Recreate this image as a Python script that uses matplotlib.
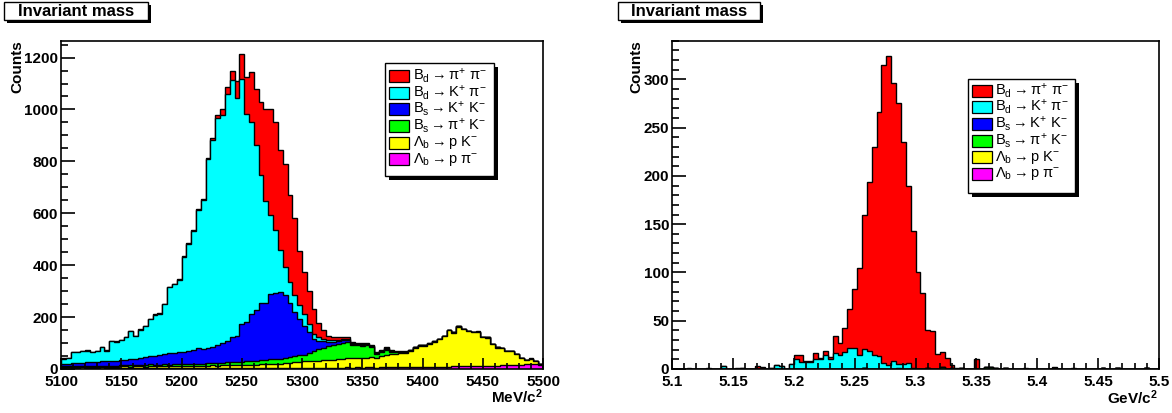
import numpy as np
import matplotlib
matplotlib.use("Agg")
import matplotlib.pyplot as plt
from matplotlib.patches import Rectangle
from matplotlib.ticker import MultipleLocator, FuncFormatter

plt.rcParams['font.family'] = ['Liberation Sans', 'DejaVu Sans']
plt.rcParams['mathtext.fontset'] = 'custom'
plt.rcParams['mathtext.rm'] = 'Liberation Sans'
plt.rcParams['mathtext.it'] = 'Liberation Sans'
plt.rcParams['mathtext.bf'] = 'Liberation Sans:bold'

# ---------------- data ----------------
channel_labels = [
    r'$\mathrm{B_d \rightarrow \pi^{+}\ \pi^{-}}$',
    r'$\mathrm{B_d \rightarrow K^{+}\ \pi^{-}}$',
    r'$\mathrm{B_s \rightarrow K^{+}\ K^{-}}$',
    r'$\mathrm{B_s \rightarrow \pi^{+}\ K^{-}}$',
    r'$\mathrm{\Lambda_b \rightarrow p\ K^{-}}$',
    r'$\mathrm{\Lambda_b \rightarrow p\ \pi^{-}}$',
]
channel_colors = ['#ff0000', '#00ffff', '#0000ff', '#00ff00', '#ffff00', '#ff00ff']

mev_range = (5100, 5500)
gev_range = (5.1, 5.5)
n_bins = 100

# Left panel (MeV/c^2), counts per 4 MeV bin
mev_bd_pipi = [2,1,2,1,2,1,2,1,2,1, 1,2,1,2,2,1,2,2,1,2, 2,1,2,2,3,2,3,3,4,4,
               5,9,11,25,26,36,67,94,143,192, 215,283,354,408,415,382,396,335,297,207,
               163,130,97,55,36,17,12,10,9,8, 6,5,4,3,3,2,2,5,2,2,
               1,1,1,1,0,1,0,1,0,1, 0,1,0,1,0,0,1,0,0,1, 0,1,0,0,1,0,0,1,0,0]
mev_bd_kpi = [22,21,43,44,44,45,39,41,54,41, 78,72,76,86,108,86,110,120,142,156,
              158,194,255,264,279,366,413,457,534,574, 727,797,873,877,953,987,915,944,802,743,
              634,493,393,302,244,165,107,80,65,55, 45,30,20,13,9,8,6,6,6,5,
              3,2,2,2,2,2,2,4,2,1, 1,1,0,1,1,0,1,0,1,0, 0,0,1,0,0,0,0,0,0,0, 0,0,0,0,0,0,0,0,0,0]
mev_bs_kk = [8,10,11,11,13,15,14,15,18,18, 17,19,20,21,24,24,26,31,32,36,
             38,39,43,44,44,46,51,55,59,55, 59,61,71,75,81,98,102,147,150,180,
             197,220,222,253,254,255,242,208,170,140, 112,79,46,32,24,16,11,8,8,8,
             4,3,3,3,2,2,2,5,2,1, 1,1,1,1,1,1,0,1,0,0, 0,0,0,0,0,0,0,0,0,0, 0,0,0,0,0,0,0,0,0,0]
mev_bs_pik = [3,3,4,3,4,4,4,4,5,4, 4,5,4,5,5,5,6,5,6,6, 6,7,6,7,7,8,7,8,8,9,
              9,10,10,11,11,12,12,13,14,14, 15,15,16,17,18,19,20,22,24,26,
              25,32,39,45,49,53,57,60,62,63, 51,49,47,47,40,15,16,18,10,6,
              4,3,3,2,2,2,2,1,1,1, 1,1,1,0,1,0,1,0,1,0, 1,0,1,0,0,1,0,1,0,0]
mev_lb_pk = [5,6,5,6,6,5,6,7,6,6, 7,6,7,8,7,8,8,7,9,8, 8,9,8,9,10,9,10,9,10,10,
             10,11,10,11,12,11,12,12,12,13, 13,14,15,16,17,18,19,20,21,23,
             25,26,27,27,28,30,32,33,35,35, 36,37,38,38,40,38,45,48,50,52,
             55,55,62,74,82,81,89,96,106,118, 141,130,153,142,136,130,131,109,109,82,
             69,66,55,55,40,26,18,20,13,3]
mev_lb_ppi = [2,1,2,2,1,2,2,2,1,2, 2,2,3,2,2,3,2,2,3,2, 3,2,3,2,3,3,2,3,3,2,
              3,3,2,3,3,4,3,3,4,3, 3,4,3,4,4,3,4,4,5,4, 4,5,4,5,5,5,4,5,5,6,
              5,6,5,6,6,5,6,6,7,6, 6,7,6,7,7,8,7,8,8,9, 9,10,10,11,11,12,12,13,12,13,
              13,14,14,15,16,17,18,19,18,15]

# Right panel (GeV/c^2), counts per 0.004 GeV bin
gev_bd_pipi = [0,0,0,1,0,0,0,1,0,0, 0,0,0,1,0,0,0,3,2,0, 0,0,0,0,0,4,7,1,1,7,
               1,5,2,17,12,24,40,61,90,139, 175,216,253,309,320,288,270,230,184,142,
               100,79,39,39,16,16,11,3,1,0, 0,0,10,0,0,0,0,0,0,0,
               0,0,1,0,0,0,0,0,1,0, 0,0,1,0,0,0,0,0,0,0, 0,0,0,0,0,0,0,0,0,0]
gev_bd_kpi = [0,0,0,0,0,0,0,0,0,0, 3,0,0,0,1,0,0,0,0,0, 1,4,3,0,5,10,7,7,7,10,
              10,14,10,17,15,18,22,22,15,20, 19,14,13,6,4,8,4,5,6,1,
              0,0,0,0,0,0,0,0,0,0, 0,0,0,0,0,0,0,0,0,0, 0,0,0,0,0,0,0,0,0,0,
              0,0,0,0,0,0,0,0,0,0, 0,0,0,0,0,0,0,0,0,0]
gev_bs_kk = [0,0,0,0,0,0,0,0,0,0, 0,0,0,0,0,0,0,0,0,0, 0,0,0,0,0,0,0,0,0,0,
             0,0,0,0,0,0,0,0,0,0, 0,0,0,0,0,0,1,0,0,0, 0,0,0,0,0,0,0,0,0,0,
             0,0,0,0,0,0,0,0,0,0, 0,0,0,0,0,0,0,0,0,0, 0,0,0,0,0,0,0,0,0,0,
             0,0,0,0,0,0,0,0,0,0]
gev_bs_pik = [0,0,0,0,0,0,0,0,0,0, 0,0,0,0,0,0,0,0,0,0, 0,0,0,0,0,0,0,0,0,0,
              0,0,0,0,0,0,0,0,0,0, 0,0,0,0,0,0,0,0,0,0, 0,0,1,0,0,2,0,1,0,1,
              0,0,0,0,2,2,1,0,0,0, 0,0,0,0,0,0,0,0,0,0, 0,0,0,0,0,0,0,0,0,0,
              0,0,0,0,0,0,0,0,0,0]
gev_lb_pk = [0,0,0,0,0,0,0,0,0,0, 0,0,0,0,0,0,0,0,0,0, 0,0,0,0,0,0,0,0,0,0,
             0,0,0,0,0,0,0,0,0,0, 0,0,0,0,0,0,0,0,0,0, 0,0,0,0,0,0,0,0,0,0,
             0,0,0,0,0,0,0,0,1,0, 0,0,0,0,0,0,0,0,0,0, 0,0,0,0,0,0,0,0,0,0,
             0,0,0,0,0,0,0,0,0,0]
gev_lb_ppi = [0,0,0,0,0,0,0,0,0,0, 0,0,0,0,0,0,0,0,0,0, 0,0,0,0,0,0,0,0,0,0,
              0,0,0,0,0,0,0,0,0,1, 0,0,0,0,0,0,0,0,0,0, 0,0,0,0,0,0,0,0,0,0,
              0,0,0,0,0,0,0,0,0,0, 0,0,0,0,0,0,0,0,1,0, 0,0,0,0,0,0,0,0,1,0,
              0,1,0,0,0,0,0,1,0,0]

W, H = 1172, 413
fig = plt.figure(figsize=(W / 100, H / 100), dpi=100)


def fx(px):
    return px / W


def fy(py):
    return 1 - py / H


def draw_stack(ax, edges, comps):
    # comps in legend order (top of stack first); stack bottom = last
    order = list(range(len(comps)))[::-1]  # bottom -> top
    arr = np.array([comps[k] for k in order], dtype=float)
    cum = np.cumsum(arr, axis=0)
    for j in range(len(order) - 1, -1, -1):
        k = order[j]
        ax.stairs(cum[j], edges, fill=True, color=channel_colors[k], linewidth=0)
        ax.stairs(cum[j], edges, color='black', linewidth=1.0)


def title_box(x0, x1, y0, y1, text):
    fig.add_artist(Rectangle((fx(x0 + 3), fy(y1 + 3)), fx(x1 - x0), (y1 - y0) / H,
                             transform=fig.transFigure, facecolor='black', edgecolor='none'))
    fig.add_artist(Rectangle((fx(x0), fy(y1)), fx(x1 - x0), (y1 - y0) / H,
                             transform=fig.transFigure, facecolor='white', edgecolor='black',
                             linewidth=1.0))
    fig.text(fx((x0 + x1) / 2), fy((y0 + y1) / 2 + 0.5), text, ha='center', va='center',
             fontsize=12, fontweight='bold')


def legend_box(x0, x1, y0, y1, row_y, rect_x, text_x):
    fig.add_artist(Rectangle((fx(x0 + 4), fy(y1 + 4)), fx(x1 - x0), (y1 - y0) / H,
                             transform=fig.transFigure, facecolor='black', edgecolor='none'))
    fig.add_artist(Rectangle((fx(x0), fy(y1)), fx(x1 - x0), (y1 - y0) / H,
                             transform=fig.transFigure, facecolor='white', edgecolor='black',
                             linewidth=1.0))
    for k, (lab, col) in enumerate(zip(channel_labels, channel_colors)):
        yc = row_y[k]
        fig.add_artist(Rectangle((fx(rect_x), fy(yc + 6)), fx(20), 12 / H,
                                 transform=fig.transFigure, facecolor=col, edgecolor='black',
                                 linewidth=0.9))
        fig.text(fx(text_x), fy(yc), lab, ha='left', va='center', fontsize=10.5)


def style_axes(ax, xmaj, xmin, ymaj, ymin):
    for s in ax.spines.values():
        s.set_linewidth(1.2)
        s.set_color('black')
    ax.xaxis.set_major_locator(MultipleLocator(xmaj))
    ax.xaxis.set_minor_locator(MultipleLocator(xmin))
    ax.yaxis.set_major_locator(MultipleLocator(ymaj))
    ax.yaxis.set_minor_locator(MultipleLocator(ymin))
    ax.tick_params(axis='both', which='both', direction='in', top=False, right=False,
                   width=1.2, labelsize=11)
    ax.tick_params(axis='y', which='major', length=10, pad=2)
    ax.tick_params(axis='y', which='minor', length=5)
    ax.tick_params(axis='x', which='major', length=8, pad=4.5)
    ax.tick_params(axis='x', which='minor', length=4)
    ax.xaxis.set_major_formatter(FuncFormatter(lambda v, p: '%g' % round(v, 4)))


ax_bottom, ax_top = 369, 40.7

# ---- left panel ----
ax1 = fig.add_axes([fx(61), fy(ax_bottom), fx(543 - 61), (ax_bottom - ax_top) / H])
edges_mev = np.linspace(mev_range[0], mev_range[1], n_bins + 1)
draw_stack(ax1, edges_mev, [mev_bd_pipi, mev_bd_kpi, mev_bs_kk, mev_bs_pik, mev_lb_pk, mev_lb_ppi])
ax1.set_xlim(*mev_range)
ax1.set_ylim(0, 1265)
style_axes(ax1, 50, 10, 200, 50)

# ---- right panel ----
ax2 = fig.add_axes([fx(672), fy(ax_bottom), fx(1159 - 672), (ax_bottom - ax_top) / H])
edges_gev = np.linspace(gev_range[0], gev_range[1], n_bins + 1)
draw_stack(ax2, edges_gev, [gev_bd_pipi, gev_bd_kpi, gev_bs_kk, gev_bs_pik, gev_lb_pk, gev_lb_ppi])
ax2.set_xlim(*gev_range)
ax2.set_ylim(0, 340)
style_axes(ax2, 0.05, 0.01, 50, 10)

for ax in (ax1, ax2):
    for lab in ax.get_xticklabels() + ax.get_yticklabels():
        lab.set_fontweight('bold')

# axis titles
fig.text(fx(17), fy(67), 'Counts', rotation=90, ha='center', va='center', fontsize=11, fontweight='bold')
fig.text(fx(636), fy(67), 'Counts', rotation=90, ha='center', va='center', fontsize=11, fontweight='bold')
fig.text(fx(543), fy(397), r'MeV/c$^{\mathbf{2}}$', ha='right', va='center', fontsize=11, fontweight='bold')
fig.text(fx(1158), fy(398), r'GeV/c$^{\mathbf{2}}$', ha='right', va='center', fontsize=11, fontweight='bold')

# titles
title_box(4, 148, 2, 20, 'Invariant mass')
title_box(618, 760, 2, 20, 'Invariant mass')

# legends
legend_box(385, 494, 63, 176, [76, 92.7, 109.3, 126, 142.7, 159.3], 389, 413)
legend_box(968, 1075, 79, 193, [90.7, 107.3, 124, 140.7, 157.3, 174], 972, 995)

fig.savefig('out.png', dpi=100)
